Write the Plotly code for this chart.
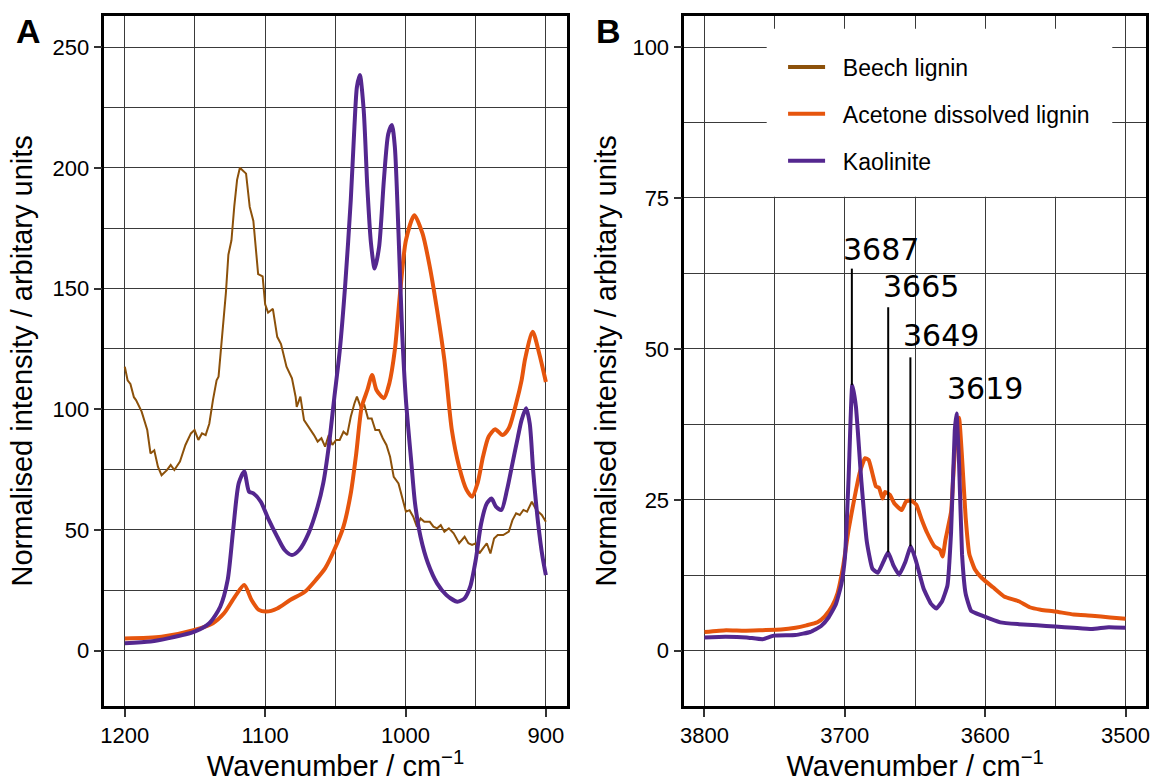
import plotly.graph_objects as go

# ---------------- Panel A data (1200 - 900 cm-1) ----------------
beech_x = [1200, 1198, 1196, 1193.5, 1192, 1188, 1184, 1181.7, 1179, 1176.4, 1173.8, 1170, 1167.3, 1164.7,
           1160.7, 1156.8, 1152.9, 1150.3, 1147.6, 1145, 1142.4, 1139.8, 1137.2, 1134.6, 1133.2, 1130.6, 1128,
           1126.2, 1124, 1122, 1120, 1118, 1113.6, 1111, 1108.4, 1105, 1101.8, 1100, 1097.9, 1094.5, 1091.4,
           1088.7, 1084.8, 1080.9, 1078.3, 1077.5, 1074.9, 1072.3, 1069.1, 1065.2, 1062.6, 1059.9, 1057.3,
           1054.7, 1052.1, 1049.5, 1046.9, 1044.2, 1041.6, 1039, 1036.4, 1034.6, 1032, 1029.3, 1026.7, 1024.1,
           1021.5, 1018.8, 1016.2, 1013.6, 1011, 1008.4, 1005, 1002.4, 999.7, 997.1, 994.5, 991.9, 989.3,
           986.6, 982.7, 980.1, 977.5, 974.9, 972.3, 969.1, 965.7, 961.8, 957.9, 955.2, 952.6, 950, 947.4,
           944.8, 942.1, 939.5, 936.9, 934.3, 930.4, 926.4, 923.8, 921.2, 918.6, 916, 913.4, 910, 906.8,
           902.9, 900]
beech_y = [117.6, 112, 110.5, 105, 103.8, 99, 91.4, 81.7, 83, 76.2, 72.7, 74.8, 76.9, 74.8,
           78.3, 85.2, 90, 91.4, 87.3, 90, 89.3, 94, 103.8, 112, 113.5, 131, 148,
           164, 170, 184, 195, 200, 197.6, 183.8, 178, 156, 155, 143.5, 140, 141.6, 130,
           127, 117.6, 112.8, 105.2, 101, 105.2, 95.5, 92.8, 89.3, 86.6, 88, 84.5,
           89.3, 85.2, 87.3, 87.3, 90.7, 89.3, 96.9, 102.4, 105.2, 101, 101.7, 96.2, 96.2,
           91.4, 91.4, 88, 85.2, 80.3, 72, 69.3, 63.8, 57.6, 58.2, 55.5, 51.4, 54.8,
           53.4, 53.4, 51.4, 50.7, 52, 49.3, 50.7, 48.6, 44.5, 47.2, 44.5, 43.8, 44.5, 40.3,
           42.4, 44.5, 40.3, 46.5, 47.9, 47.9, 49.3, 54.1, 56.9, 56.2, 58.3, 57.6, 61.7, 58.3,
           56.2, 53.4]

acetone_a_x = [1200, 1173.8, 1150.3, 1137.2, 1129.3, 1121.5, 1114.9, 1109.7, 1104.5, 1099.2, 1091.4,
               1082.2, 1071.7, 1063.9, 1057.3, 1050.8, 1044.2, 1039, 1035.1, 1031.2, 1027.2, 1023.8,
               1020.7, 1015.4, 1011.5, 1007.6, 1003.7, 999.7, 993.7, 987.9, 982.7, 977.5, 972.3, 967,
               961.8, 956.5, 952.6, 948.7, 944.8, 940.8, 936.1, 930.9, 926.4, 921.2, 917.3, 914.7,
               909.4, 904.7, 900]
acetone_a_y = [5.1, 5.8, 8.6, 11.4, 15.5, 22.4, 27.2, 21, 16.9, 16.2, 17.5,
               21, 24.4, 29.3, 34.1, 41.7, 51.4, 65.2, 81.7, 101, 107.9, 114.2,
               108, 104.6, 110.8, 124.6, 149.3, 170, 180.4, 172.8, 159, 141.1, 120.4, 91.4,
               76.2, 66.6, 63.8, 69.3, 80.3, 88.6, 91.7, 89.3, 92.1, 102.4, 112, 121.1,
               132.1, 123, 111.3]

kaolinite_a_x = [1200, 1181.7, 1168.6, 1150.3, 1139.8, 1132, 1126.7, 1122.8, 1118.8, 1114.9, 1111.5,
                 1108.4, 1103.1, 1097.9, 1091.4, 1086.1, 1080.9, 1075.7, 1069.1, 1062.6, 1058.6, 1054.7,
                 1050.8, 1046.9, 1042.9, 1039, 1036.4, 1034.6, 1032.5, 1029.8, 1027.2, 1024.6, 1022,
                 1018.8, 1015.4, 1012.3, 1009.7, 1007.6, 1005, 1002.4, 999.7, 995.8, 993.2, 989.3,
                 984, 977.5, 970.9, 963.1, 957.9, 953.9, 950, 946.1, 942.1, 938.7, 935.6, 931.7,
                 927.7, 923.8, 919.9, 917.3, 914.1, 911.5, 908.9, 905.5, 902.4, 900]
kaolinite_a_y = [3.1, 3.8, 5.2, 7.9, 11.4, 18.2, 29.3, 50, 69.4, 74.2, 65.9,
                 65.2, 61.7, 54.8, 47.2, 41.7, 39.6, 41.7, 48.6, 59.7, 69.4, 84.5,
                 104.5, 124, 152, 186.6, 217, 233.5, 238.4, 224, 192, 168.7, 158.3,
                 167.3, 195, 214, 217.7, 208.7, 173, 132, 103.8, 77.6, 61, 47.2,
                 36.2, 27.9, 23.1, 20.3, 21.7, 26.5, 37.5, 52.7, 61, 63, 59.7, 58.3,
                 66.6, 77.6, 88.6, 95.5, 100.4, 94.1, 73.4, 52.7, 38.9, 31.3]

# ---------------- Panel B data (3800 - 3500 cm-1) ----------------
kaolinite_b_x = [3800, 3785, 3770, 3758.6, 3750.7, 3735.1, 3724.7, 3716.9, 3711.6, 3706.4, 3702.5,
                 3699.9, 3697.3, 3694.7, 3692.1, 3688.2, 3684.3, 3680.4, 3676.5, 3672.6, 3669.2,
                 3665.3, 3661.3, 3656.9, 3653.0, 3649.1, 3643.9, 3638.7, 3634.8, 3630.9, 3626.9,
                 3624.3, 3621.7, 3620.4, 3618.6, 3616.5, 3613.9, 3610.0, 3602.2, 3589.2, 3576.1,
                 3563.1, 3550.1, 3537.0, 3524.0, 3512, 3500]
kaolinite_b_y = [2.2, 2.3, 2.2, 1.9, 2.5, 2.6, 3.1, 4.1, 5.5, 7.7, 11,
                 15.5, 28.7, 44, 40.4, 28, 18, 13.6, 12.9, 14.7, 16.3,
                 14.1, 12.6, 14.7, 17.3, 14.7, 10.3, 7.8, 7.0, 8.1, 10.8,
                 19.7, 36.4, 39.3, 30.9, 16, 9.4, 6.6, 5.8, 4.7, 4.4,
                 4.2, 4.0, 3.8, 3.6, 3.9, 3.8]

acetone_b_x = [3800, 3784.6, 3771.6, 3758.6, 3745.5, 3735.1, 3727.3, 3719.5, 3714.3, 3709.0, 3705.1,
               3701.2, 3697.3, 3693.4, 3689.5, 3685.6, 3683.0, 3680.4, 3677.8, 3675.7, 3673.1, 3671.3,
               3667.9, 3664.7, 3659.5, 3656.4, 3653.0, 3649.1, 3645.2, 3641.3, 3636.1, 3632.2, 3630.3,
               3628.3, 3624.3, 3621.7, 3618.6, 3616.5, 3613.9, 3611.3, 3607.4, 3602.2, 3594.4, 3586.6,
               3576.1, 3568.3, 3560.5, 3550.1, 3537.0, 3524.0, 3511.0, 3500]
acetone_b_y = [3.1, 3.4, 3.3, 3.4, 3.5, 3.8, 4.2, 4.7, 5.7, 7.4, 9.6,
               14, 20.1, 25, 29.4, 31.9, 31.6, 29.4, 27.2, 27.0, 25.2, 26.3,
               25.8, 24.4, 23.3, 24.7, 24.9, 24.2, 21.7, 19.5, 17.3, 16.7, 15.6,
               18.4, 23, 33, 38.6, 32, 22, 16, 13.5, 12.0, 10.5, 9.0,
               8.2, 7.2, 6.8, 6.5, 6.0, 5.8, 5.5, 5.3]

# peak labels (panel B)
peak_labels = ["3687", "3665", "3649", "3619"]
peak_line_x = [3695.0, 3669.1, 3653.3]
peak_line_y0 = [44.0, 16.3, 17.3]
peak_line_y1 = [63.3, 56.9, 48.6]
peak_text_x = [3674.3, 3646.0, 3631.8, 3599.8]
peak_text_y = [66.4, 60.3, 52.3, 43.4]

series_names = ["Beech lignin", "Acetone dissolved lignin", "Kaolinite"]

BROWN = "#8c510a"
ORANGE = "#e6550d"
PURPLE = "#54278f"
FONT = "Liberation Sans, Arial, Helvetica, sans-serif"
colors = [BROWN, ORANGE, PURPLE]

fig = go.Figure()
# Panel A
fig.add_trace(go.Scatter(x=beech_x, y=beech_y, mode="lines", name=series_names[0],
                         line=dict(color=BROWN, width=2), xaxis="x", yaxis="y", showlegend=False))
fig.add_trace(go.Scatter(x=acetone_a_x, y=acetone_a_y, mode="lines", name=series_names[1],
                         line=dict(color=ORANGE, width=4, shape="spline", smoothing=0.7),
                         xaxis="x", yaxis="y", showlegend=False))
fig.add_trace(go.Scatter(x=kaolinite_a_x, y=kaolinite_a_y, mode="lines", name=series_names[2],
                         line=dict(color=PURPLE, width=4, shape="spline", smoothing=0.7),
                         xaxis="x", yaxis="y", showlegend=False))
# Panel B
fig.add_trace(go.Scatter(x=acetone_b_x, y=acetone_b_y, mode="lines", name=series_names[1],
                         line=dict(color=ORANGE, width=4, shape="spline", smoothing=0.4),
                         xaxis="x2", yaxis="y2", showlegend=False))
fig.add_trace(go.Scatter(x=kaolinite_b_x, y=kaolinite_b_y, mode="lines", name=series_names[2],
                         line=dict(color=PURPLE, width=4, shape="spline", smoothing=0.4),
                         xaxis="x2", yaxis="y2", showlegend=False))
# legend entries (thick samples as in the reference)
NB = "\u00a0\u00a0"
for i, (nm, c) in enumerate(zip(series_names, colors)):
    fig.add_trace(go.Scatter(x=[None], y=[None], mode="lines", name=NB + nm,
                             line=dict(color=c, width=4), xaxis="x2", yaxis="y2",
                             legendgroup="g%d" % i, showlegend=True))

W, H = 1157, 782
def px_x(p):
    return p / W
def px_y(p):
    return 1 - p / H

grid_color = "#3a3a3a"
common_axis = dict(showline=True, mirror=True, linecolor="black", linewidth=2.5,
                   showgrid=True, gridcolor=grid_color, gridwidth=1, zeroline=False,
                   ticks="outside", ticklen=8, tickwidth=1.5, tickcolor="#333",
                   tickfont=dict(family=FONT, size=22, color="black"))

xa = dict(common_axis, domain=[px_x(101), px_x(566.7)], range=[1214.6, 885.1],
          tickmode="linear", tick0=900, dtick=100,
          minor=dict(dtick=50, tick0=900, showgrid=True, gridcolor=grid_color, gridwidth=1, ticks=""),
          title=dict(text="Wavenumber / cm<sup>−1</sup>", font=dict(family=FONT, size=29, color="black"),
                     standoff=13),
          anchor="y")
ya = dict(common_axis, domain=[px_y(706), px_y(15.7)], range=[-22.9, 263.0],
          tickmode="linear", tick0=0, dtick=50,
          minor=dict(dtick=25, tick0=0, showgrid=True, gridcolor=grid_color, gridwidth=1, ticks=""),
          title=dict(text="Normalised intensity / arbitary units",
                     font=dict(family=FONT, size=29, color="black"), standoff=12),
          anchor="x")
xb = dict(common_axis, domain=[px_x(685), px_x(1150)], range=[3814.4, 3485.4],
          tickmode="linear", tick0=3500, dtick=100,
          minor=dict(dtick=50, tick0=3500, showgrid=True, gridcolor=grid_color, gridwidth=1, ticks=""),
          title=dict(text="Wavenumber / cm<sup>−1</sup>", font=dict(family=FONT, size=29, color="black"),
                     standoff=13),
          anchor="y2")
yb = dict(common_axis, domain=[px_y(706), px_y(15.7)], range=[-9.16, 105.2],
          tickmode="linear", tick0=0, dtick=25,
          minor=dict(dtick=12.5, tick0=0, showgrid=True, gridcolor=grid_color, gridwidth=1, ticks=""),
          title=dict(text="Normalised intensity / arbitary units",
                     font=dict(family=FONT, size=29, color="black"), standoff=8),
          anchor="x2")

shapes = []
for lx, y0, y1 in zip(peak_line_x, peak_line_y0, peak_line_y1):
    shapes.append(dict(type="line", xref="x2", yref="y2", x0=lx, x1=lx, y0=y0, y1=y1,
                       line=dict(color="black", width=2), layer="above"))
# white legend box in panel B
shapes.append(dict(type="rect", xref="paper", yref="paper", x0=px_x(768), x1=px_x(1116),
                   y0=px_y(196.7), y1=px_y(28.7), fillcolor="white", line=dict(width=0), layer="above"))

annotations = []
for t, tx, ty in zip(peak_labels, peak_text_x, peak_text_y):
    annotations.append(dict(text=t, x=tx, y=ty, xref="x2", yref="y2", showarrow=False,
                            xanchor="center", yanchor="middle",
                            font=dict(family="DejaVu Sans", size=30, color="black")))
annotations.append(dict(text="<b>A</b>", x=px_x(25), y=px_y(31), xref="paper", yref="paper",
                        showarrow=False, xanchor="center", yanchor="middle",
                        font=dict(family=FONT, size=34, color="black")))
annotations.append(dict(text="<b>B</b>", x=px_x(609), y=px_y(31), xref="paper", yref="paper",
                        showarrow=False, xanchor="center", yanchor="middle",
                        font=dict(family=FONT, size=34, color="black")))

fig.update_layout(
    width=W, height=H, margin=dict(l=0, r=0, t=0, b=0),
    paper_bgcolor="white", plot_bgcolor="white",
    xaxis=xa, yaxis=ya, xaxis2=xb, yaxis2=yb,
    shapes=shapes, annotations=annotations,
    showlegend=True,
    legend=dict(x=px_x(784.5), y=px_y(45.5), xanchor="left", yanchor="top",
                bgcolor="rgba(0,0,0,0)", borderwidth=0, tracegroupgap=14,
                font=dict(family=FONT, size=23, color="black"), itemwidth=37),
    font=dict(family=FONT, color="black"),
)

fig.write_html("out.html")
